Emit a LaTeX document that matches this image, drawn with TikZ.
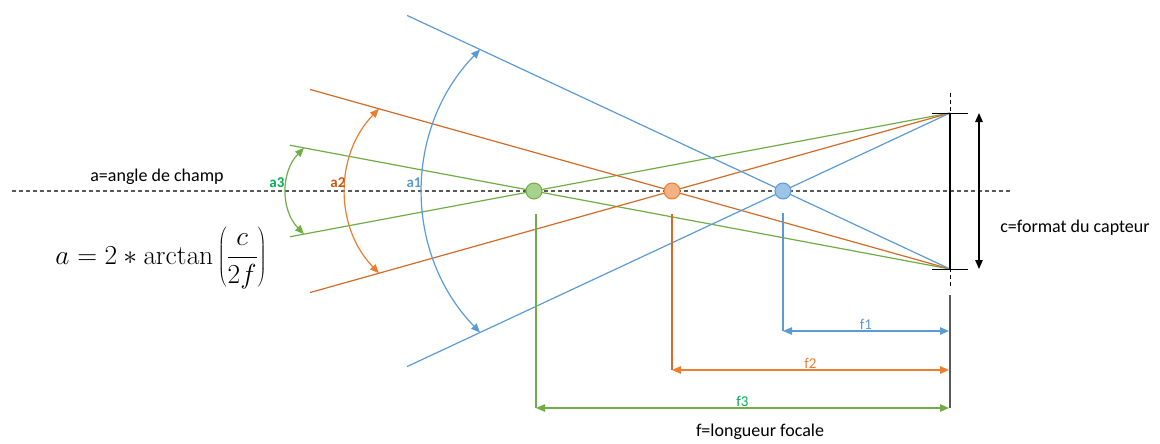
\documentclass[tikz,border=0pt]{standalone}
\usepackage{fix-cm}
\usepackage[no-math]{fontspec}
\setmainfont{Carlito}
\usetikzlibrary{arrows.meta}
\usetikzlibrary{calc}
\definecolor{vert}{HTML}{70AD47}
\definecolor{vertfill}{HTML}{A9D18E}
\definecolor{verttxt}{HTML}{00B050}
\definecolor{orange}{HTML}{ED7D31}
\definecolor{orangeray}{HTML}{D36A27}
\definecolor{orangefill}{HTML}{F4B183}
\definecolor{orangetxt}{HTML}{C55A11}
\definecolor{bleu}{HTML}{5B9BD5}
\definecolor{bleufill}{HTML}{9DC3E6}
\definecolor{axe}{HTML}{595959}
\tikzstyle{focal}=[circle, draw, line width=1pt, minimum size=16pt, inner sep=0pt]
\tikzstyle{ray}=[line width=1.2pt]
\tikzstyle{angle}=[<->, line width=1.2pt, bend right=44]
\tikzstyle{dim}=[<->, line width=1.2pt]
\tikzstyle{lbl}=[font=\fontsize{18}{20}\selectfont]
\tikzstyle{albl}=[font=\fontsize{15}{17}\selectfont\bfseries]
\tikzstyle{flbl}=[font=\fontsize{15}{17}\selectfont, inner sep=1pt]

\begin{document}
\begin{tikzpicture}[x=1pt, y=-1pt, >={Triangle[length=9pt, width=7.5pt]}]
    \useasboundingbox (0,0) rectangle (1160,444);
    % points
    \coordinate (S1) at (950,113);
    \coordinate (S2) at (950,269);
    \coordinate (G) at (534,191);
    \coordinate (O) at (672,191);
    \coordinate (B) at (783,191);
    \coordinate (F1) at (950,331);
    \coordinate (F2) at (950,370);
    \coordinate (F3) at (950,408);
    \coordinate (AxL) at (12,191);
    \coordinate (AxR) at (1010,191);

    % axis and sensor plane
    \draw[axe, line width=1.5pt, dash pattern=on 4pt off 3pt] (AxL) -- (AxR);
    \draw[black, line width=0.6pt, dash pattern=on 4pt off 3pt] ($(S1)+(0,-20)$) -- ($(S2)+(0,19)$);
    \draw[axe, line width=1.2pt] ($(S2)+(0,26)$) -- (F3);

    % rays
    \draw[ray, vert] (S1) -- ($(S1)!1.587!(G)$);
    \draw[ray, vert] (S2) -- ($(S2)!1.587!(G)$);
    \draw[ray, orangeray] (S1) -- ($(S1)!2.302!(O)$);
    \draw[ray, orangeray] (S2) -- ($(S2)!2.302!(O)$);
    \draw[ray, bleu] (S1) -- ($(S1)!3.251!(B)$);
    \draw[ray, bleu] (S2) -- ($(S2)!3.251!(B)$);

    % sensor
    \draw[line width=2.5pt] (S1) -- (S2);
    \draw[line width=1pt] ($(S1)+(-18,0)$) -- ($(S1)+(18,0)$);
    \draw[line width=1pt] ($(S2)+(-18,0)$) -- ($(S2)+(18,0)$);
    \draw[<->, line width=1.2pt] ($(S1)+(29,0)$) -- ($(S2)+(29,0)$);
    \node[lbl] (capteur) at (1075,228) {c=format du capteur};

    % focal points
    \node[focal, draw=vert, fill=vertfill] (Gf) at (G) {};
    \node[focal, draw=orange, fill=orangefill] (Of) at (O) {};
    \node[focal, draw=bleu, fill=bleufill] (Bf) at (B) {};

    % angles
    \draw[angle, vert] ($(S2)!1.553!(G)$) to ($(S1)!1.553!(G)$);
    \draw[angle, orange] ($(S2)!2.054!(O)$) to ($(S1)!2.054!(O)$);
    \draw[angle, bleu] ($(S2)!2.814!(B)$) to ($(S1)!2.814!(B)$);
    \node[albl, text=verttxt] (a3) at (277,183) {a3};
    \node[albl, text=orangetxt] (a2) at (338,183) {a2};
    \node[albl, text=bleu] (a1) at (414,183) {a1};
    \node[lbl] (champ) at (157,177) {a=angle de champ};
    \node (formule) at (161,258) {\fontsize{27.5}{32}\selectfont $\displaystyle a = 2 * \arctan\left(\frac{c}{2f}\right)$};

    % focal lengths
    \draw[ray, bleu] ($(B)+(0,22)$) -- (B |- F1);
    \draw[ray, orangeray] ($(O)+(0,23)$) -- (O |- F2);
    \draw[ray, vert] ($(G)+(2,23)$) -- ($(G |- F3)+(2,0)$);
    \draw[dim, bleu] (B |- F1) -- ($(F1)+(-1,0)$) node[midway, above, flbl] {f1};
    \draw[dim, orange] (O |- F2) -- ($(F2)+(-1,0)$) node[midway, above, flbl, text=orange] {f2};
    \draw[dim, vert] ($(G |- F3)+(2,0)$) -- ($(F3)+(-1,0)$) node[midway, above, flbl, text=verttxt] {f3};
    \node[lbl] (focale) at (760,432) {f=longueur focale};
\end{tikzpicture}
\end{document}
